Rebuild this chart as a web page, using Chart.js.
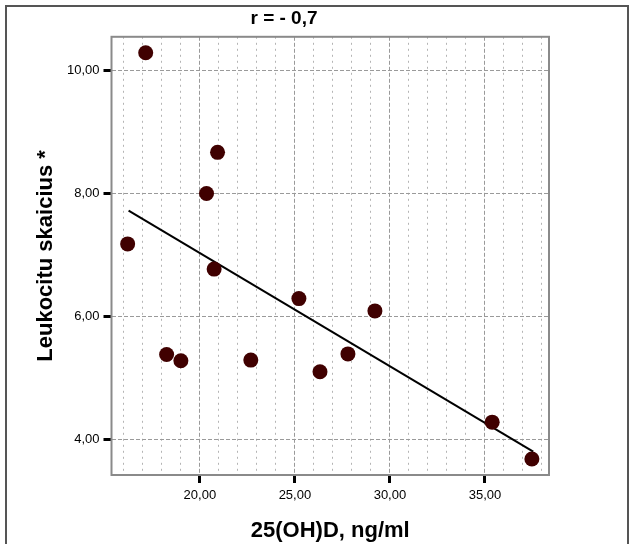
<!DOCTYPE html>
<html>
<head>
  <meta charset="utf-8">
  <script src="https://cdn.jsdelivr.net/npm/chart.js@4"></script>
  <style>
    body { margin: 0; background: #fff; }
  </style>
</head>
<body>
<canvas id="scatterChart" width="635" height="544"></canvas>
<script>
  // values
  const vitaminD = [16.2, 17.15, 18.25, 19.0, 20.35, 20.93, 20.75, 22.68, 25.21, 26.32, 27.79, 29.21, 35.38, 37.47];
  const leukocytes = [7.18, 10.29, 5.38, 5.28, 8.0, 8.67, 6.77, 5.29, 6.29, 5.10, 5.39, 6.09, 4.28, 3.68];
  const fitX = [16.25, 37.54];
  const fitY = [7.72, 3.80];
  const xMajorTicks = [20, 25, 30, 35];
  const yMajorTicks = [4, 6, 8, 10];

  const points = vitaminD.map((x, i) => ({x: x, y: leukocytes[i]}));
  const fitLine = fitX.map((x, i) => ({x: x, y: fitY[i]}));

  function fmt(v) {
    return v.toFixed(2).replace('.', ',');
  }
  function isMajorX(ctx) {
    return ctx.tick && xMajorTicks.includes(Math.round(ctx.tick.value));
  }

  // outer frame + border round the plot area
  const framePlugin = {
    id: 'frame',
    beforeDraw(chart) {
      const c = chart.ctx;
      c.save();
      c.fillStyle = '#fff';
      c.fillRect(0, 0, chart.width, chart.height);
      c.strokeStyle = '#555';
      c.lineWidth = 2;
      c.strokeRect(6, 6, 622, 600);
      c.restore();
    },
    afterDatasetsDraw(chart) {
      const a = chart.chartArea;
      const c = chart.ctx;
      c.save();
      c.strokeStyle = '#8a8a8a';
      c.lineWidth = 2;
      c.strokeRect(a.left, a.top, a.right - a.left, a.bottom - a.top);
      c.restore();
    }
  };

  new Chart(document.getElementById('scatterChart'), {
    type: 'scatter',
    data: {
      datasets: [{
        data: points,
        backgroundColor: '#400000',
        borderColor: '#400000',
        borderWidth: 0,
        pointRadius: 7.5,
        pointHoverRadius: 7.5
      }, {
        type: 'line',
        data: fitLine,
        borderColor: '#000',
        borderWidth: 2,
        pointRadius: 0,
        fill: false
      }]
    },
    options: {
      responsive: false,
      animation: false,
      layout: { padding: { left: 19, right: 86, top: 0, bottom: 0 } },
      plugins: {
        legend: { display: false },
        tooltip: { enabled: false },
        title: {
          display: true,
          text: 'r = - 0,7',
          color: '#000',
          font: { family: 'Liberation Sans', size: 19, weight: 'bold' },
          padding: { top: 7, bottom: 7 }
        }
      },
      scales: {
        x: {
          type: 'linear',
          min: 15.35,
          max: 38.37,
          afterFit: s => { s.height = 69; },
          ticks: {
            stepSize: 1,
            includeBounds: false,
            autoSkip: false,
            maxRotation: 0,
            padding: 5,
            color: '#000',
            font: { family: 'Liberation Sans', size: 13 },
            callback: v => xMajorTicks.includes(Math.round(v)) ? fmt(v) : ''
          },
          grid: {
            color: ctx => isMajorX(ctx) ? '#9a9a9a' : '#b4b4b4',
            lineWidth: 1,
            tickLength: 8,
            tickWidth: 3,
            tickBorderDash: [],
            tickColor: ctx => isMajorX(ctx) ? '#000' : 'rgba(0,0,0,0)'
          },
          border: {
            display: false,
            dash: ctx => ctx.tick ? (isMajorX(ctx) ? [4, 2] : [2, 4]) : []
          },
          title: {
            display: true,
            text: '25(OH)D, ng/ml',
            color: '#000',
            font: { family: 'Liberation Sans', size: 22, weight: 'bold' },
            padding: { top: 0, bottom: 0 }
          }
        },
        y: {
          type: 'linear',
          min: 3.42,
          max: 10.55,
          afterFit: s => { s.width = 92.5; },
          ticks: {
            stepSize: 2,
            includeBounds: false,
            padding: 4,
            color: '#000',
            font: { family: 'Liberation Sans', size: 13 },
            callback: v => yMajorTicks.includes(Math.round(v)) ? fmt(v) : ''
          },
          grid: {
            color: '#9a9a9a',
            lineWidth: 1,
            tickLength: 8,
            tickWidth: 3,
            tickBorderDash: [],
            tickColor: '#000'
          },
          border: {
            display: false,
            dash: ctx => ctx.tick ? [4, 2] : []
          },
          title: {
            display: true,
            text: 'Leukocitu skaicius *',
            color: '#000',
            font: { family: 'Liberation Sans', size: 22, weight: 'bold' },
            padding: { top: 14, bottom: 0 }
          }
        }
      }
    },
    plugins: [framePlugin]
  });
</script>
</body>
</html>
